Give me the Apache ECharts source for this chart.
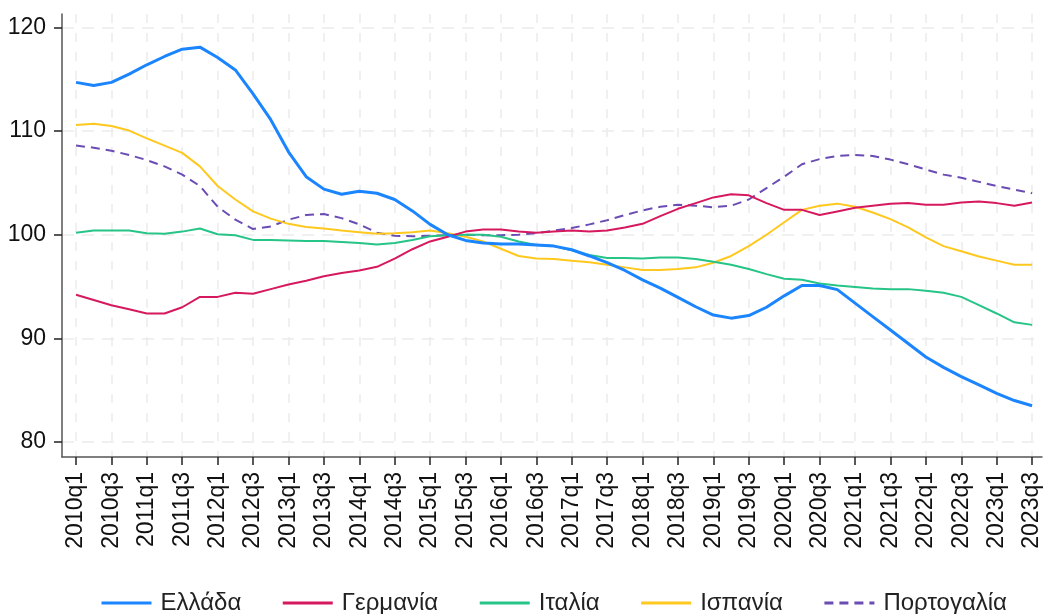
<!DOCTYPE html>
<html>
<head>
<meta charset="utf-8">
<script src="https://cdn.jsdelivr.net/npm/echarts@6/dist/echarts.min.js"></script>
<style>
  html, body { margin: 0; padding: 0; background: #fff; }
  #chart { width: 1044px; height: 614px; }
</style>
</head>
<body>
<div id="chart"></div>
<script>
// quarters 2010q1 .. 2023q3
var quarters = [];
for (var yr = 2010; yr <= 2023; yr++) {
  for (var q = 1; q <= 4; q++) {
    if (yr === 2023 && q > 3) break;
    quarters.push(yr + 'q' + q);
  }
}

var greece = [114.7, 114.4, 114.7, 115.5, 116.4, 117.2, 117.9, 118.1, 117.1, 115.9,
  113.6, 111.1, 108.0, 105.6, 104.4, 103.9, 104.2, 104.0, 103.4, 102.3,
  101.0, 100.0, 99.45, 99.2, 99.1, 99.1, 99.0, 98.9, 98.55, 97.95,
  97.3, 96.55, 95.65, 94.85, 93.95, 93.05, 92.25, 91.95, 92.2, 93.0,
  94.1, 95.1, 95.1, 94.7, 93.4, 92.1, 90.8, 89.5, 88.2, 87.2,
  86.3, 85.5, 84.7, 84.0, 83.5];

var germany = [94.2, 93.7, 93.2, 92.8, 92.4, 92.4, 93.0, 94.0, 94.0, 94.4,
  94.3, 94.75, 95.2, 95.55, 96.0, 96.3, 96.55, 96.9, 97.7, 98.6,
  99.35, 99.8, 100.3, 100.5, 100.5, 100.3, 100.2, 100.3, 100.4, 100.3,
  100.4, 100.7, 101.05, 101.8, 102.5, 103.05, 103.6, 103.9, 103.8, 103.05,
  102.4, 102.4, 101.9, 102.25, 102.6, 102.8, 103.0, 103.05, 102.9, 102.9,
  103.1, 103.2, 103.05, 102.8, 103.1];

var italy = [100.2, 100.4, 100.4, 100.4, 100.15, 100.1, 100.3, 100.6, 100.05, 99.95,
  99.5, 99.5, 99.45, 99.4, 99.4, 99.3, 99.2, 99.05, 99.2, 99.5,
  99.85, 99.95, 100.0, 100.0, 99.8, 99.35, 99.0, 98.9, 98.5, 98.05,
  97.75, 97.75, 97.7, 97.8, 97.8, 97.65, 97.4, 97.1, 96.7, 96.2,
  95.75, 95.65, 95.3, 95.1, 94.95, 94.8, 94.75, 94.75, 94.6, 94.4,
  94.0, 93.2, 92.4, 91.55, 91.3];

var spain = [110.6, 110.7, 110.5, 110.05, 109.3, 108.6, 107.9, 106.6, 104.7, 103.4,
  102.25, 101.55, 101.05, 100.75, 100.6, 100.4, 100.25, 100.1, 100.15, 100.25,
  100.4, 100.15, 99.8, 99.35, 98.65, 97.95, 97.7, 97.65, 97.5, 97.35,
  97.1, 96.85, 96.6, 96.6, 96.7, 96.85, 97.3, 97.95, 98.9, 100.0,
  101.2, 102.4, 102.8, 103.0, 102.7, 102.15, 101.5, 100.7, 99.75, 98.9,
  98.4, 97.9, 97.5, 97.1, 97.1];

var portugal = [108.6, 108.4, 108.1, 107.7, 107.2, 106.6, 105.8, 104.7, 102.7, 101.45,
  100.55, 100.8, 101.45, 101.9, 102.0, 101.6, 101.0, 100.2, 99.9, 99.85,
  99.9, 99.95, 100.0, 99.95, 99.95, 100.0, 100.15, 100.4, 100.65, 101.0,
  101.4, 101.9, 102.35, 102.7, 102.9, 102.8, 102.65, 102.8, 103.4, 104.5,
  105.6, 106.8, 107.3, 107.6, 107.7, 107.6, 107.25, 106.8, 106.3, 105.8,
  105.5, 105.1, 104.7, 104.35, 104.0];

var names = ['Ελλάδα', 'Γερμανία', 'Ιταλία', 'Ισπανία', 'Πορτογαλία'];
var colors = ['#1a85ff', '#d6195e', '#26c487', '#ffc81e', '#6a4cb4'];
var yTicks = [80, 90, 100, 110, 120];

var xTicks = [];
for (var k = 0; k < quarters.length; k += 2) xTicks.push(k);

function pairs(arr) {
  return arr.map(function (v, i) { return [i, v]; });
}

var font = "'Liberation Sans', Arial, sans-serif";
var chart = echarts.init(document.getElementById('chart'));

var seriesData = [greece, germany, italy, spain, portugal];
var series = seriesData.map(function (d, i) {
  return {
    name: names[i],
    type: 'line',
    symbol: 'none',
    data: pairs(d),
    color: colors[i],
    lineStyle: {
      color: colors[i],
      width: i === 0 ? 3 : 2,
      type: i === 4 ? [9, 6] : 'solid'
    },
    z: 10 - i
  };
});

chart.setOption({
  animation: false,
  backgroundColor: '#fff',
  grid: { left: 62, right: 2, top: 14, bottom: 157 },
  legend: {
    bottom: -1,
    left: 100,
    padding: 0,
    itemWidth: 50,
    itemHeight: 14,
    itemGap: 40,
    itemStyle: { opacity: 0 },
    lineStyle: { width: 3 },
    textStyle: { fontFamily: font, fontSize: 24, color: '#222', padding: [0, 0, 0, 4] },
    data: names
  },
  xAxis: {
    type: 'value',
    min: -0.79,
    max: 54.56,
    axisLine: { show: true, onZero: false, lineStyle: { color: '#555', width: 1.5 } },
    axisTick: { show: true, length: 8, customValues: xTicks, lineStyle: { color: '#222', width: 1.5 } },
    axisLabel: {
      customValues: xTicks,
      rotate: 90,
      margin: 15,
      fontFamily: font,
      fontSize: 23,
      color: '#111',
      formatter: function (v) { return quarters[Math.round(v)]; }
    },
    splitLine: { show: true, lineStyle: { color: '#ebebeb', width: 1.5, type: [9, 10] } }
  },
  yAxis: {
    type: 'value',
    min: 78.55,
    max: 121.3,
    axisLine: { show: true, onZero: false, lineStyle: { color: '#555', width: 1.5 } },
    axisTick: { show: true, length: 8, customValues: yTicks, lineStyle: { color: '#222', width: 1.5 } },
    axisLabel: {
      customValues: yTicks,
      margin: 16,
      fontFamily: font,
      fontSize: 23,
      color: '#111'
    },
    splitLine: { show: true, lineStyle: { color: '#ebebeb', width: 1.5, type: [12, 8] } }
  },
  series: series
});
</script>
</body>
</html>
